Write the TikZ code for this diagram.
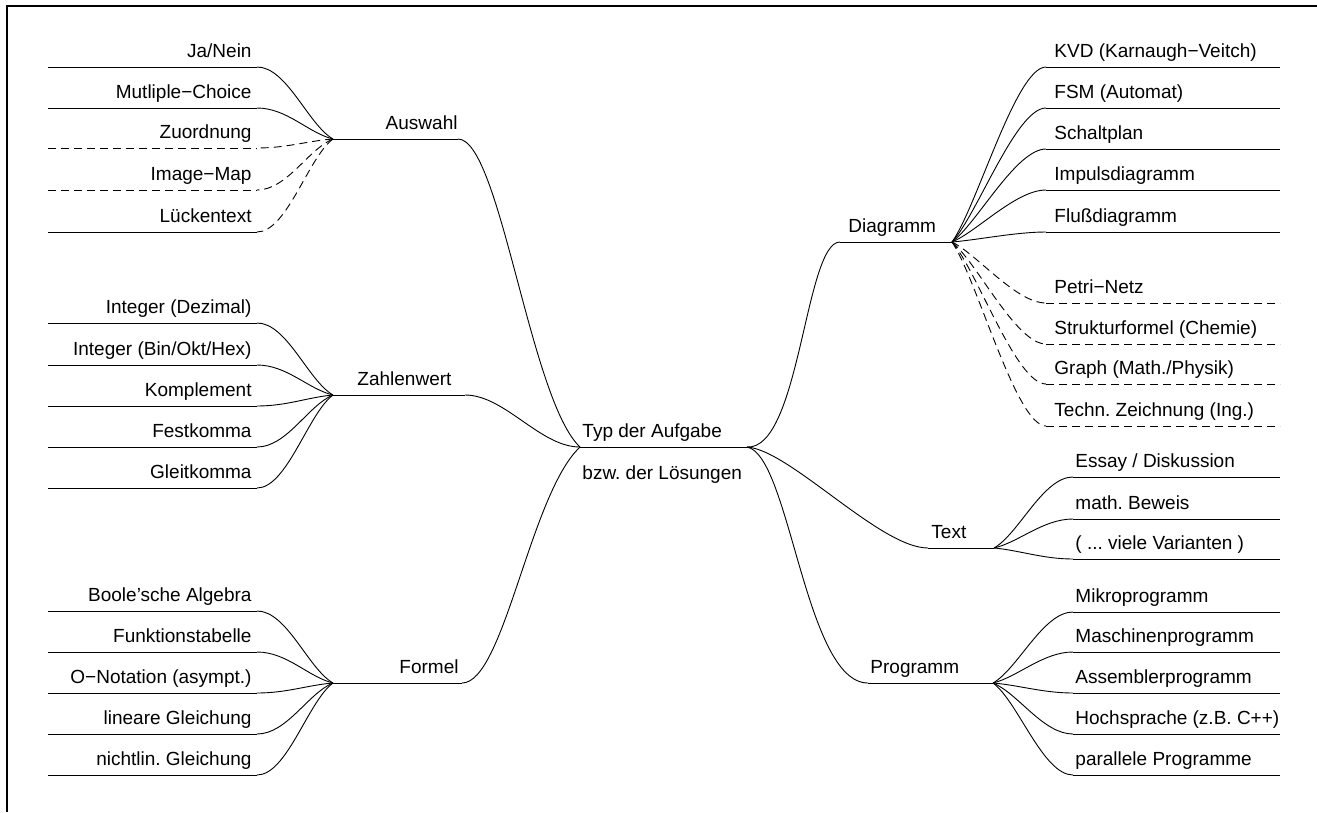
\documentclass[tikz,border=0pt]{standalone}
\usepackage{fontspec}
\setmainfont{Liberation Sans}
\frenchspacing
\tikzset{sure/.style={solid}, maybe/.style={dash pattern=on 8pt off 5pt},
 every node/.style={inner sep=0pt}}
\newcommand{\twigL}[3]{
 \coordinate (#1) at (333,#2);
 \foreach \y/\lab/\cst/\lst [count=\i] in {#3} {
  \coordinate (#1a\i) at (48,\y);
  \coordinate (#1b\i) at (257,\y);
  \draw[\lst] (#1a\i) -- (#1b\i);
  \draw[\cst] (#1) .. controls +(-25,{0.2*(\y-#2)}) and +(30,0) .. (#1b\i);
  \node[anchor=base east] (#1t\i) at ([xshift=-5pt,yshift=10pt]#1b\i) {\lab};
 }}
\newcommand{\twigR}[6]{
 \coordinate (#1) at (#2,#3);
 \foreach \y/\lab/\cst/\lst [count=\i] in {#6} {
  \coordinate (#1a\i) at (#4,\y);
  \coordinate (#1b\i) at (1280,\y);
  \draw[\lst] (#1a\i) -- (#1b\i);
  \draw[\cst] (#1) .. controls +(25,{0.2*(\y-#3)}) and +(-30,0) .. (#1a\i);
  \node[anchor=base west] (#1t\i) at ([xshift=#5pt,yshift=10pt]#1a\i) {\lab};
 }}

\begin{document}
\begin{tikzpicture}[x=1pt,y=-1pt,line width=0.9pt,font=\fontsize{19}{23}\selectfont]
\useasboundingbox (0,0) rectangle (1317,812);
\draw[line width=1.2pt] (1317,6) -- (7,6) -- (7,812);
\twigL{aus}{139}{67/{Ja/Nein}/sure/sure, 108/Mutliple−Choice/sure/sure,
 148/Zuordnung/maybe/maybe, 190/Image−Map/maybe/maybe, 232/Lückentext/maybe/sure}
\twigL{zah}{395}{323/Integer (Dezimal)/sure/sure, 365/{Integer (Bin/Okt/Hex)}/sure/sure,
 406/Komplement/sure/sure, 447/Festkomma/sure/sure, 488/Gleitkomma/sure/sure}
\twigL{for}{683}{611/Boole'sche Algebra/sure/sure, 652/Funktionstabelle/sure/sure,
 693/O−Notation (asympt.)/sure/sure, 734/lineare Gleichung/sure/sure, 775/nichtlin. Gleichung/sure/sure}
\twigR{dia}{952}{242}{1046}{8}{67/KVD (Karnaugh−Veitch)/sure/sure, 108/FSM (Automat)/sure/sure,
 149/Schaltplan/sure/sure, 190/Impulsdiagramm/sure/sure, 232/Flußdiagramm/sure/sure,
 303/Petri−Netz/maybe/maybe, 344/Strukturformel (Chemie)/maybe/maybe,
 384/{Graph (Math./Physik)}/maybe/maybe, 426/Techn. Zeichnung (Ing.)/maybe/maybe}
\twigR{txt}{994}{548}{1073}{2}{477/{Essay / Diskussion}/sure/sure, 519/math. Beweis/sure/sure,
 559/{( ... viele Varianten )}/sure/sure}
\twigR{pro}{993}{683}{1073}{2}{612/Mikroprogramm/sure/sure, 652/Maschinenprogramm/sure/sure,
 693/Assemblerprogramm/sure/sure, 734/Hochsprache (z.B. C++)/sure/sure, 775/parallele Programme/sure/sure}
\coordinate (typL) at (580,447);
\coordinate (typR) at (747,447);
\coordinate (ausE) at (458,139);
\coordinate (zahE) at (465,395);
\coordinate (forE) at (462,683);
\coordinate (diaS) at (840,242);
\coordinate (txtS) at (928,548);
\coordinate (proS) at (868,683);
\draw (aus) -- (ausE) (zah) -- (zahE) (for) -- (forE) (diaS) -- (dia) (txtS) -- (txt) (proS) -- (pro) (typL) -- (typR);
\draw (ausE) .. controls (500,139) and (530,400) .. (typL);
\draw (zahE) .. controls (505,395) and (540,447) .. (typL);
\draw (forE) .. controls (504,683) and (530,494) .. (typL);
\draw (typR) .. controls (800,450) and (805,242) .. (diaS);
\draw (typR) .. controls (790,450) and (880,548) .. (txtS);
\draw (typR) .. controls (790,455) and (805,683) .. (proS);
\node[anchor=base east] (auswahl) at ([yshift=10pt]ausE) {Auswahl};
\node[anchor=base west] (zahlenwert) at (357,385) {Zahlenwert};
\node[anchor=base east] (formel) at (459,673) {Formel};
\node[anchor=base west] (diagramm) at (848,232) {Diagramm};
\node[anchor=base west] (text) at (931,538) {Text};
\node[anchor=base west] (programm) at (870,673) {Programm};
\node[anchor=base west] (typ) at (582,437) {Typ der Aufgabe};
\node[anchor=base west] (bzw) at (582,479) {bzw. der Lösungen};
\end{tikzpicture}
\end{document}
